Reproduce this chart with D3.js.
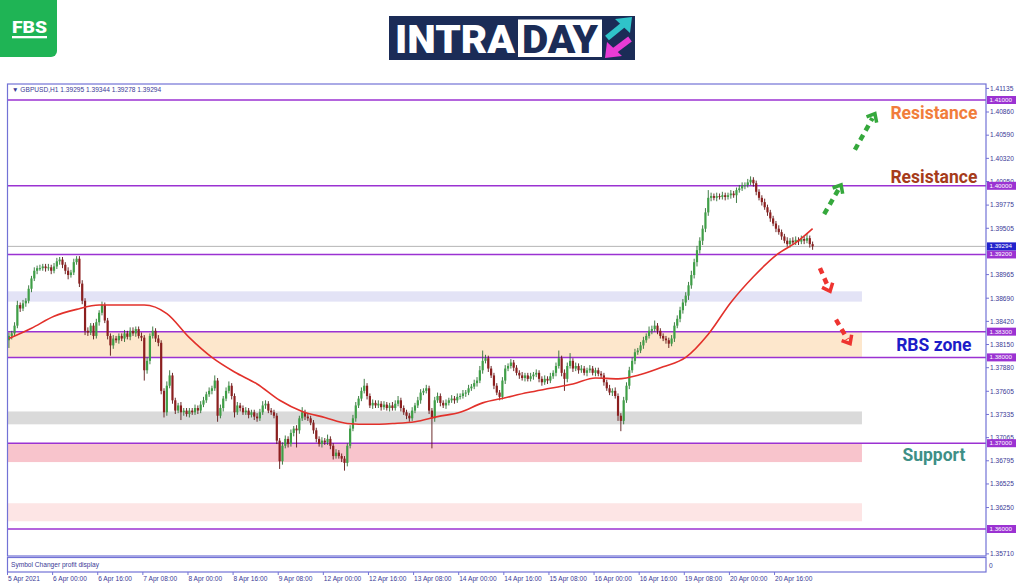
<!DOCTYPE html>
<html>
<head>
<meta charset="utf-8">
<script src="https://cdn.jsdelivr.net/npm/d3@7"></script>
<style>
  body { margin: 0; background: #fff; }
  svg { display: block; font-family: "Liberation Sans", Arial, sans-serif; }
</style>
</head>
<body>
<div id="chart"></div>
<script>
// GBPUSD H1 candles (open = previous close)
var firstOpen = 1.3820;
var closes = [
  1.3825,1.3828,1.3837,1.3861,1.3857,1.3863,1.3866,1.3880,1.3892,1.3901,
  1.3904,1.3904,1.3906,1.3904,1.3905,1.3901,1.3906,1.3912,1.3914,1.3908,
  1.3901,1.3896,1.3899,1.3911,1.3915,1.3886,1.3866,1.3831,1.3829,1.3837,
  1.3825,1.3841,1.3852,1.3861,1.3843,1.3825,1.3814,1.3822,1.3820,1.3825,
  1.3822,1.3828,1.3824,1.3831,1.3828,1.3833,1.3825,1.3823,1.3785,1.3796,
  1.3825,1.3831,1.3822,1.3817,1.3761,1.3736,1.3767,1.3779,1.3750,1.3738,
  1.3744,1.3736,1.3738,1.3734,1.3738,1.3736,1.3741,1.3738,1.3745,1.3750,
  1.3757,1.3761,1.3764,1.3773,1.3732,1.3741,1.3752,1.3761,1.3767,1.3755,
  1.3736,1.3744,1.3741,1.3736,1.3738,1.3733,1.3736,1.3731,1.3729,1.3736,
  1.3744,1.3746,1.3738,1.3736,1.3732,1.3703,1.3679,1.3697,1.3705,1.3699,
  1.3712,1.3717,1.3715,1.3729,1.3736,1.3731,1.3729,1.3724,1.3715,1.3705,
  1.3699,1.3703,1.3701,1.3705,1.3697,1.3685,1.3689,1.3685,1.3682,1.3677,
  1.3697,1.3717,1.3729,1.3744,1.3752,1.3761,1.3767,1.3755,1.3744,1.3747,
  1.3744,1.3746,1.3742,1.3745,1.3741,1.3744,1.3741,1.3746,1.3750,1.3741,
  1.3736,1.3732,1.3729,1.3738,1.3744,1.3750,1.3759,1.3761,1.3764,1.3738,
  1.3729,1.3750,1.3755,1.3747,1.3744,1.3747,1.3750,1.3752,1.3750,1.3754,
  1.3755,1.3758,1.3759,1.3764,1.3766,1.3770,1.3773,1.3785,1.3796,1.3799,
  1.3787,1.3779,1.3767,1.3759,1.3754,1.3773,1.3787,1.3790,1.3794,1.3788,
  1.3782,1.3779,1.3776,1.3779,1.3775,1.3778,1.3780,1.3782,1.3775,1.3771,
  1.3775,1.3773,1.3778,1.3782,1.3790,1.3799,1.3782,1.3775,1.3790,1.3796,
  1.3787,1.3790,1.3785,1.3787,1.3782,1.3785,1.3787,1.3782,1.3785,1.3781,
  1.3779,1.3771,1.3764,1.3759,1.3761,1.3755,1.3732,1.3726,1.3750,1.3767,
  1.3785,1.3796,1.3806,1.3808,1.3814,1.3820,1.3825,1.3831,1.3833,1.3837,
  1.3831,1.3825,1.3822,1.3820,1.3816,1.3822,1.3837,1.3845,1.3855,1.3864,
  1.3872,1.3884,1.3896,1.3911,1.3925,1.3936,1.3950,1.3969,1.3986,1.3988,
  1.3986,1.3988,1.3987,1.3989,1.3987,1.3989,1.3991,1.3989,1.3995,1.3997,
  1.4000,1.4001,1.4004,1.4007,1.4003,1.3993,1.3986,1.3981,1.3975,1.3969,
  1.3962,1.3956,1.3950,1.3946,1.3941,1.3936,1.3932,1.3936,1.3934,1.3937,
  1.3935,1.3938,1.3936,1.3939,1.3932,1.39294
];
// wick lengths above / below the body, in pips
var wickUp = [
  4,3,4,5,3,4,3,4,3,4, 3,4,3,3,4,3,4,4,3,3, 3,4,3,4,3,3,4,3,4,3,
  3,4,3,4,3,3,3,4,3,3, 3,4,3,4,4,3,3,4,3,4, 3,5,3,4,3,3,5,6,3,3,
  3,4,3,3,3,3,4,3,4,4, 3,4,3,6,3,4,3,4,5,3, 3,4,3,3,4,3,3,3,4,4,
  5,4,3,3,3,3,3,4,4,3, 4,3,4,3,6,3,4,3,3,3, 3,4,3,5,3,3,4,3,3,3,
  3,4,4,4,3,4,8,3,3,4, 3,4,3,4,3,3,4,4,5,3, 3,3,3,4,3,4,4,3,4,3,
  3,4,4,3,3,4,3,4,3,4, 3,4,3,4,3,4,4,5,12,4, 3,3,3,3,3,4,4,3,4,3,
  3,3,4,3,3,4,3,4,3,3, 4,3,4,3,4,9,3,4,4,9, 3,4,3,4,3,3,4,3,3,3,
  3,3,3,4,3,4,3,3,4,4, 4,4,4,3,4,4,3,5,4,6, 3,3,3,3,3,4,4,4,4,4,
  4,4,5,4,5,4,4,5,9,4, 3,4,3,4,3,3,4,3,3,4, 4,3,4,4,3,3,3,3,4,3,
  3,3,3,4,3,3,4,3,4,4, 3,4,3,6,3,3
];
var wickDown = [
  9,4,3,3,4,3,4,3,4,3, 4,3,3,4,3,4,3,3,4,4, 4,5,3,3,3,4,4,5,4,3,
  4,3,4,3,3,4,12,4,3,4, 3,4,3,4,3,4,3,4,12,4, 4,3,4,4,4,6,4,3,4,4,
  3,9,4,3,4,3,3,4,3,3, 3,3,4,3,7,3,4,3,3,4, 6,3,4,3,3,4,3,4,4,3,
  3,4,3,3,3,4,9,4,3,4, 3,4,20,4,3,4,3,3,4,4, 3,4,3,3,4,4,3,3,4,9,
  4,3,3,4,3,3,3,4,3,4, 3,3,4,3,3,4,3,3,3,4, 3,4,4,3,3,3,4,3,3,4,
  35,4,3,4,3,4,3,3,4,3, 3,3,4,3,3,3,4,3,4,3, 4,3,4,3,4,3,4,3,3,4,
  3,4,3,4,3,3,4,3,4,4, 3,4,3,3,4,3,4,14,4,3, 4,3,4,3,3,4,3,3,4,3,
  3,4,3,3,4,3,6,12,4,3, 4,3,4,3,3,4,3,3,4,3, 4,3,3,4,5,3,4,3,4,4,
  4,5,4,4,5,4,5,4,4,4, 3,4,3,3,4,3,4,3,9,3, 3,4,3,3,4,4,3,4,3,4,
  4,3,4,3,4,3,3,4,3,3, 4,3,4,3,4,4
];

// moving average (red line), sampled every 8 bars
var maIndex = [0,8,16,24,32,40,48,56,64,72,80,88,96,104,112,120,128,136,144,152,
               160,168,176,184,192,200,208,216,224,232,240,248,256,264,272,280,285];
var maValues = [1.3822,1.3834,1.3848,1.3856,1.3861,1.3861,1.3861,1.3851,1.3823,1.3800,
                1.3783,1.3769,1.3750,1.3737,1.3730,1.3723,1.3722,1.3723,1.3725,1.3731,
                1.3736,1.3747,1.3753,1.3759,1.3764,1.3769,1.3776,1.3775,1.3780,1.3789,
                1.3800,1.3827,1.3864,1.3894,1.3919,1.3936,1.3950];

var timeLabels = ["5 Apr 2021","6 Apr 00:00","6 Apr 16:00","7 Apr 08:00","8 Apr 00:00","8 Apr 16:00",
                  "9 Apr 08:00","12 Apr 00:00","12 Apr 16:00","13 Apr 08:00","14 Apr 00:00","14 Apr 16:00",
                  "15 Apr 08:00","16 Apr 00:00","16 Apr 16:00","19 Apr 08:00","20 Apr 00:00","20 Apr 16:00"];
var barsPerLabel = 16;

// price scale labels that are visible (the others sit under the level boxes)
var priceTicks = [1.41135,1.40860,1.40590,1.40320,1.40050,1.39775,1.39505,1.38965,1.38690,
                  1.38420,1.38150,1.37880,1.37605,1.37335,1.37065,1.36795,1.36525,1.36250,1.35710];
var levels = [1.41, 1.40, 1.392, 1.383, 1.38, 1.37, 1.36];
var lastPrice = 1.39294;

// shaded zones: price top / bottom, last bar index they reach
var zoneTop = [1.3877, 1.3830, 1.3737, 1.3699, 1.3630];
var zoneBottom = [1.3865, 1.3800, 1.3722, 1.3678, 1.3609];
var zoneEnd = 303;

var labelNames = ["Resistance", "Resistance", "RBS zone", "Support"];
var labelPrices = [1.40848, 1.40103, 1.38145, 1.36862];
var labelIndex = 328.5;

// dashed arrows: [from bar, from price, to bar, to price]
var upArrows = [[300.5, 1.4042, 307.6, 1.4084], [289.6, 1.3967, 295.6, 1.4001]];
var downArrows = [[288.1, 1.3904, 291.7, 1.3877], [293.8, 1.3844, 298.8, 1.3816]];

var header = "\u25BC GBPUSD,H1  1.39295 1.39344 1.39278 1.39294";

// layout
var W = 1024, H = 587;
var pane = {left: 7.5, right: 986, top: 84, bottom: 556};
var sub = {top: 557.5, bottom: 572};
var frameColor = "#7272d6", textColor = "#3a3a96", levelColor = "#9b32d2";

var svg = d3.select("#chart").append("svg")
    .attr("width", W)
    .attr("height", H);

var x = d3.scaleLinear().domain([0, 346]).range([7.5, 7.5 + 2.82 * 346]);
var y = d3.scaleLinear().domain([1.36, 1.41]).range([529, 100]);

svg.append("clipPath").attr("id", "clip")
  .append("rect")
    .attr("x", pane.left).attr("y", pane.top)
    .attr("width", pane.right - pane.left).attr("height", pane.bottom - pane.top);

var plot = svg.append("g").attr("clip-path", "url(#clip)");

// zones
var zoneColors = ["#e3e3f6", "#fde7cc", "#dadada", "#f8c4cc", "#fde5e5"];
plot.selectAll(".zone")
    .data(zoneTop)
  .enter().append("rect")
    .attr("x", x(0))
    .attr("width", x(zoneEnd) - x(0))
    .attr("y", function(d) { return y(d); })
    .attr("height", function(d, i) { return y(zoneBottom[i]) - y(d); })
    .attr("fill", function(d, i) { return zoneColors[i]; });

// current price line
plot.append("line")
    .attr("x1", pane.left).attr("x2", pane.right)
    .attr("y1", y(lastPrice)).attr("y2", y(lastPrice))
    .attr("stroke", "#b4b4b4").attr("stroke-width", 1);

// horizontal levels
plot.selectAll(".level")
    .data(levels)
  .enter().append("line")
    .attr("x1", pane.left).attr("x2", pane.right)
    .attr("y1", function(d) { return y(d); })
    .attr("y2", function(d) { return y(d); })
    .attr("stroke", levelColor).attr("stroke-width", 1.5);

// candles
var bars = closes.map(function(c, i) {
  var o = i === 0 ? firstOpen : closes[i - 1];
  return {
    i: i, o: o, c: c,
    h: Math.max(o, c) + wickUp[i] / 10000,
    l: Math.min(o, c) - wickDown[i] / 10000
  };
});

var candle = plot.selectAll(".candle")
    .data(bars)
  .enter().append("g");

candle.append("line")
    .attr("x1", function(d) { return x(d.i + 0.5); })
    .attr("x2", function(d) { return x(d.i + 0.5); })
    .attr("y1", function(d) { return y(d.h); })
    .attr("y2", function(d) { return y(d.l); })
    .attr("stroke", function(d) { return d.c >= d.o ? "#2d6e33" : "#5a1414"; })
    .attr("stroke-width", 0.9);

candle.append("rect")
    .attr("x", function(d) { return x(d.i + 0.5) - 1.1; })
    .attr("width", 2.2)
    .attr("y", function(d) { return y(Math.max(d.o, d.c)); })
    .attr("height", function(d) { return Math.max(1, Math.abs(y(d.o) - y(d.c))); })
    .attr("fill", function(d) { return d.c >= d.o ? "#3f9f47" : "#8c1f1f"; });

// moving average
plot.append("path")
    .datum(maValues)
    .attr("fill", "none")
    .attr("stroke", "#e2312b")
    .attr("stroke-width", 1.6)
    .attr("d", d3.line()
      .curve(d3.curveMonotoneX)
      .x(function(d, i) { return x(maIndex[i] + 0.5); })
      .y(function(d) { return y(d); }));

// arrows
function drawArrow(a, color) {
  var x1 = x(a[0]), y1 = y(a[1]), x2 = x(a[2]), y2 = y(a[3]);
  var ang = Math.atan2(y2 - y1, x2 - x1);
  svg.append("line")
      .attr("x1", x1).attr("y1", y1)
      .attr("x2", x2 - 5 * Math.cos(ang)).attr("y2", y2 - 5 * Math.sin(ang))
      .attr("stroke", color).attr("stroke-width", 4.5)
      .attr("stroke-dasharray", "6,5");
  var len = 9, spread = 0.7;
  var pts = [
    [x2 - len * Math.cos(ang - spread), y2 - len * Math.sin(ang - spread)],
    [x2, y2],
    [x2 - len * Math.cos(ang + spread), y2 - len * Math.sin(ang + spread)]
  ];
  svg.append("path")
      .attr("d", d3.line()(pts))
      .attr("fill", "none").attr("stroke", color)
      .attr("stroke-width", 3.5);
}
upArrows.forEach(function(a) { drawArrow(a, "#35a83c"); });
downArrows.forEach(function(a) { drawArrow(a, "#ee3430"); });

// zone labels
var labelColors = ["#f17d3b", "#a63b1a", "#1c1cc8", "#3e8f86"];
svg.selectAll(".zlabel")
    .data(labelNames)
  .enter().append("text")
    .attr("x", x(labelIndex))
    .attr("y", function(d, i) { return y(labelPrices[i]); })
    .attr("dy", "0.36em")
    .attr("text-anchor", "middle")
    .style("font-family", "Roboto, 'Open Sans', sans-serif")
    .style("font-weight", "700")
    .style("font-size", "17.5px")
    .attr("fill", function(d, i) { return labelColors[i]; })
    .text(function(d) { return d; });

// frames
svg.append("rect")
    .attr("x", pane.left).attr("y", pane.top)
    .attr("width", pane.right - pane.left).attr("height", pane.bottom - pane.top)
    .attr("fill", "none").attr("stroke", frameColor).attr("stroke-width", 1.2);
svg.append("rect")
    .attr("x", pane.left).attr("y", sub.top)
    .attr("width", pane.right - pane.left).attr("height", sub.bottom - sub.top)
    .attr("fill", "none").attr("stroke", frameColor).attr("stroke-width", 1.2);

svg.append("text")
    .attr("x", 12).attr("y", 91.5)
    .style("font-size", "6.6px").attr("fill", textColor)
    .text(header);
svg.append("text")
    .attr("x", 11).attr("y", 567)
    .style("font-size", "6.6px").attr("fill", textColor)
    .text("Symbol Changer profit display");
svg.append("text")
    .attr("x", 989).attr("y", 567.5)
    .style("font-size", "6.6px").attr("fill", textColor)
    .text("0");

// price axis
var fmt = d3.format(".5f");
var yTick = svg.selectAll(".ytick")
    .data(priceTicks)
  .enter().append("g")
    .attr("transform", function(d) { return "translate(" + pane.right + "," + y(d) + ")"; });
yTick.append("line").attr("x1", 0).attr("x2", 3).attr("stroke", frameColor);
yTick.append("text")
    .attr("x", 4).attr("dy", "0.35em")
    .style("font-size", "6.6px").attr("fill", textColor)
    .text(function(d) { return fmt(d); });

var boxes = levels.map(function(d) { return {v: d, c: levelColor}; })
    .concat([{v: lastPrice, c: "#2222cc"}]);
var box = svg.selectAll(".pbox")
    .data(boxes)
  .enter().append("g")
    .attr("transform", function(d) { return "translate(" + (pane.right + 1) + "," + y(d.v) + ")"; });
box.append("rect")
    .attr("x", 0).attr("y", -4).attr("width", 29).attr("height", 8)
    .attr("fill", function(d) { return d.c; });
box.append("text")
    .attr("x", 2.5).attr("dy", "0.33em")
    .style("font-size", "6.2px").attr("fill", "#fff")
    .text(function(d) { return fmt(d.v); });

// time axis
var xTick = svg.selectAll(".xtick")
    .data(timeLabels)
  .enter().append("g")
    .attr("transform", function(d, i) { return "translate(" + x(i * barsPerLabel) + "," + sub.bottom + ")"; });
xTick.append("line").attr("y1", 0).attr("y2", 3).attr("stroke", frameColor);
xTick.append("text")
    .attr("x", 0.5).attr("y", 9)
    .style("font-size", "6.6px").attr("fill", textColor)
    .text(function(d) { return d; });

// FBS logo
var fbs = svg.append("g");
fbs.append("rect").attr("x", -6).attr("y", -6).attr("width", 63).attr("height", 63)
    .attr("rx", 6).attr("fill", "#1fb455");
fbs.append("text").attr("x", 12).attr("y", 32.5)
    .attr("textLength", 35).attr("lengthAdjust", "spacingAndGlyphs")
    .style("font-family", "Roboto, sans-serif").style("font-weight", "900")
    .style("font-size", "16px").attr("fill", "#fff")
    .text("FBS");
fbs.append("rect").attr("x", 12).attr("y", 36).attr("width", 35).attr("height", 2.3).attr("fill", "#fff");

// INTRADAY logo
var logo = svg.append("g");
logo.append("rect").attr("x", 389).attr("y", 16).attr("width", 246).attr("height", 44).attr("fill", "#1b2c57");
logo.append("text").attr("x", 395).attr("y", 52.5)
    .attr("textLength", 120).attr("lengthAdjust", "spacingAndGlyphs")
    .style("font-family", "Roboto, sans-serif").style("font-weight", "900")
    .style("font-size", "38px").attr("fill", "#fff")
    .text("INTRA");
logo.append("rect").attr("x", 518).attr("y", 19.5).attr("width", 84).attr("height", 37.5).attr("fill", "#fff");
logo.append("text").attr("x", 522).attr("y", 52.5)
    .attr("textLength", 76).attr("lengthAdjust", "spacingAndGlyphs")
    .style("font-family", "Roboto, sans-serif").style("font-weight", "900")
    .style("font-size", "38px").attr("fill", "#1b2c57")
    .text("DAY");
logo.append("line").attr("x1", 607).attr("y1", 38).attr("x2", 623).attr("y2", 25)
    .attr("stroke", "#2fc3c9").attr("stroke-width", 6);
logo.append("polygon").attr("points", "632,17 615,19 630,33").attr("fill", "#2fc3c9");
logo.append("line").attr("x1", 630).attr("y1", 39).attr("x2", 614).attr("y2", 51)
    .attr("stroke", "#e93bd5").attr("stroke-width", 6);
logo.append("polygon").attr("points", "605,58 622,56 607,42").attr("fill", "#e93bd5");
</script>
</body>
</html>
